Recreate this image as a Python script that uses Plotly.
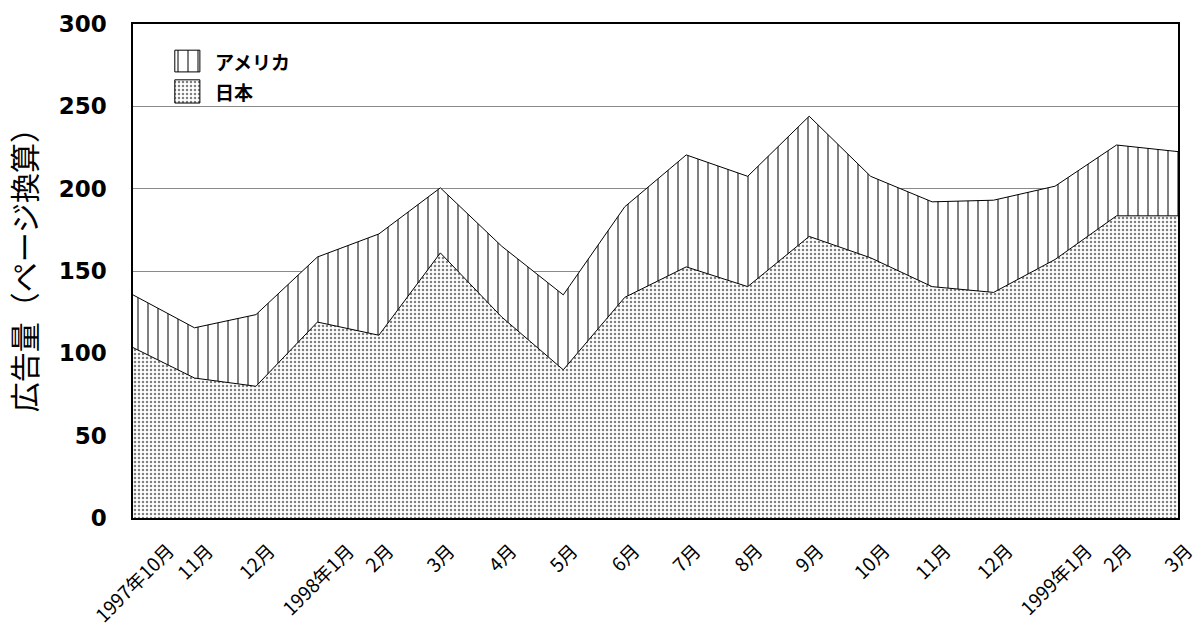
import plotly.graph_objects as go

# ---- data ----
months = ["1997年10月", "11月", "12月", "1998年1月", "2月", "3月", "4月", "5月", "6月",
          "7月", "8月", "9月", "10月", "11月", "12月", "1999年1月", "2月", "3月"]
japan = [103.5, 85, 80, 119, 111, 161, 122, 90, 134, 152.5, 140.5, 171,
         158, 140.5, 137, 157, 183.5, 183.5]
america = [32, 30.5, 43.5, 39.5, 61.5, 39.5, 43, 45.5, 55, 68, 67, 73,
           49.5, 51.5, 56, 44.5, 43, 39]
series_names = ["アメリカ", "日本"]
y_ticks = [0, 50, 100, 150, 200, 250, 300]
y_title = "広告量（ページ換算）"

idx = list(range(len(months)))

JP_FONT = "Noto Sans CJK JP"
dots = dict(shape=".", fgcolor="black", bgcolor="white", size=4, solidity=0.3)
vlines = dict(shape="|", fgcolor="black", bgcolor="white", size=10, solidity=0.2)

fig = go.Figure()
fig.add_trace(go.Scatter(x=idx, y=japan, name=series_names[1], stackgroup="s",
                         mode="lines", line=dict(color="black", width=1),
                         fillcolor="white", fillpattern=dots, showlegend=False,
                         hoverinfo="skip"))
fig.add_trace(go.Scatter(x=idx, y=america, name=series_names[0], stackgroup="s",
                         mode="lines", line=dict(color="black", width=1),
                         fillcolor="white", fillpattern=vlines, showlegend=False,
                         hoverinfo="skip"))

# ---- legend drawn on an overlay (0..1) frame ----
sw_x0, sw_x1 = 0.040, 0.064
legend_rows = [(0.903, 0.947, vlines, series_names[0], 0.925),
               (0.840, 0.887, dots, series_names[1], 0.864)]
for y0, y1, pat, label, ty in legend_rows:
    fig.add_trace(go.Scatter(x=[sw_x0, sw_x1, sw_x1, sw_x0, sw_x0],
                             y=[y0, y0, y1, y1, y0], xaxis="x2", yaxis="y2",
                             mode="lines", fill="toself", fillcolor="white",
                             fillpattern=pat, line=dict(color="black", width=1),
                             showlegend=False, hoverinfo="skip"))
    fig.add_annotation(x=0.0766, y=ty, xref="paper", yref="paper", text=label,
                       showarrow=False, xanchor="left", yanchor="middle",
                       font=dict(family=JP_FONT, size=19, color="black", weight="bold"))

# ---- rotated month labels, centred on each month like the original ----
for i, m in enumerate(months):
    fig.add_annotation(x=i, y=0, xref="x", yref="y", text=m, textangle=-45,
                       showarrow=False, xanchor="center", yanchor="top", yshift=-16,
                       font=dict(family=JP_FONT, size=19, color="black"))

# ---- y axis title ----
fig.add_annotation(x=-0.105, y=0.516, xref="paper", yref="paper", text=y_title,
                   textangle=-90, showarrow=False, xanchor="center", yanchor="middle",
                   font=dict(family=JP_FONT, size=30, color="black"))

fig.update_layout(
    width=1196, height=629,
    margin=dict(l=133, r=18, t=24, b=111),
    paper_bgcolor="white", plot_bgcolor="white",
    showlegend=False,
    xaxis=dict(range=[0, len(months) - 1], showticklabels=False, ticks="",
               showgrid=False, zeroline=False, showline=True, linecolor="black",
               linewidth=1.5, mirror=True),
    yaxis=dict(range=[0, 300], tickvals=y_ticks, ticks="", ticklabelstandoff=20,
               tickfont=dict(family="DejaVu Sans", size=23, color="black", weight="bold"),
               showgrid=True, gridcolor="#8a8a8a", gridwidth=1, zeroline=False,
               showline=True, linecolor="black", linewidth=1.5, mirror=True),
    xaxis2=dict(range=[0, 1], overlaying="x", anchor="y2", visible=False),
    yaxis2=dict(range=[0, 1], overlaying="y", anchor="x2", visible=False),
)

# remove the default 8px page margin so the figure fills the window exactly
fig.write_html("out.html",
               config={"displayModeBar": False},
               post_script="document.body.style.margin='0';"
                           "document.body.style.overflow='hidden';")
